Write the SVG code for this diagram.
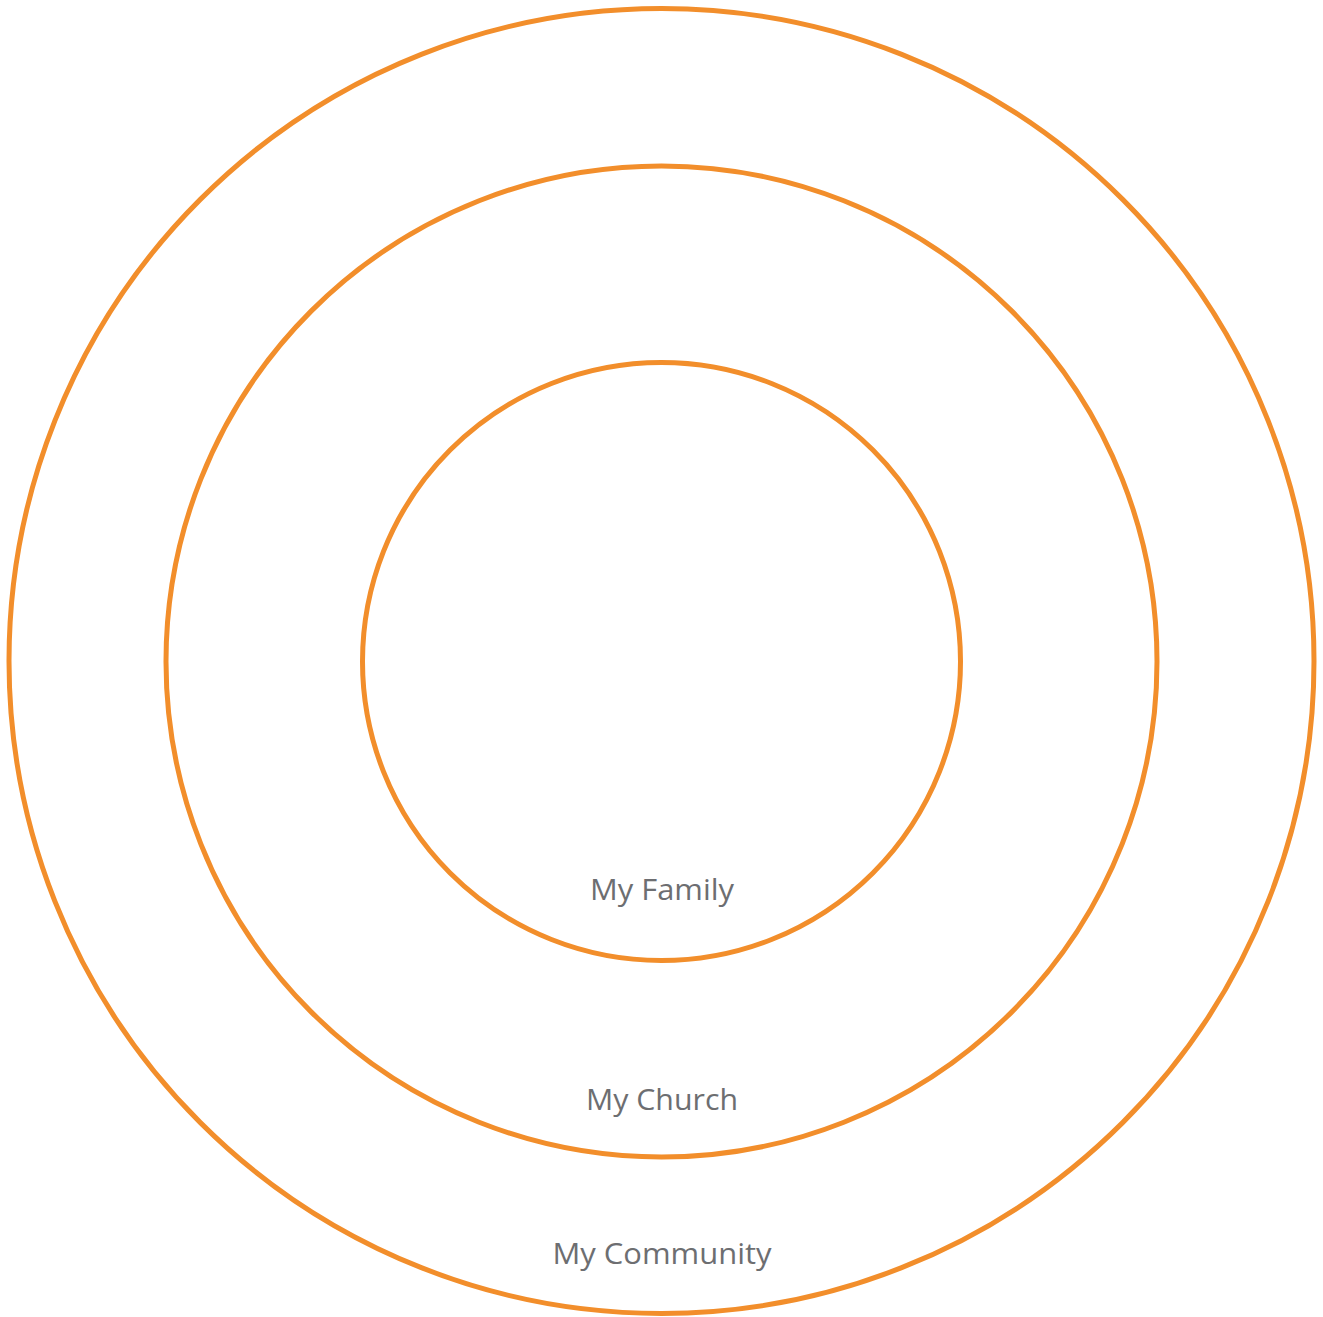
<svg xmlns="http://www.w3.org/2000/svg" width="1323" height="1317" viewBox="0 0 1323 1317">
<style>
.ring{fill:none;stroke:#F28E2B;stroke-width:5}
.lbl{font-family:"Open Sans","Noto Sans","Liberation Sans",sans-serif;font-size:30px;fill:#6D6E71;text-anchor:middle}
</style>
<rect width="1323" height="1317" fill="#fff"/>
<g id="community"><circle class="ring" cx="661.5" cy="661" r="652.5"/><text class="lbl" x="662" y="1264" textLength="219" lengthAdjust="spacingAndGlyphs">My Community</text></g>
<g id="church"><circle class="ring" cx="661.5" cy="661.5" r="495.5"/><text class="lbl" x="662" y="1110" textLength="152" lengthAdjust="spacingAndGlyphs">My Church</text></g>
<g id="family"><circle class="ring" cx="661.5" cy="661.5" r="299"/><text class="lbl" x="662" y="900" textLength="144" lengthAdjust="spacingAndGlyphs">My Family</text></g>
<g id="connectors"/>
</svg>
